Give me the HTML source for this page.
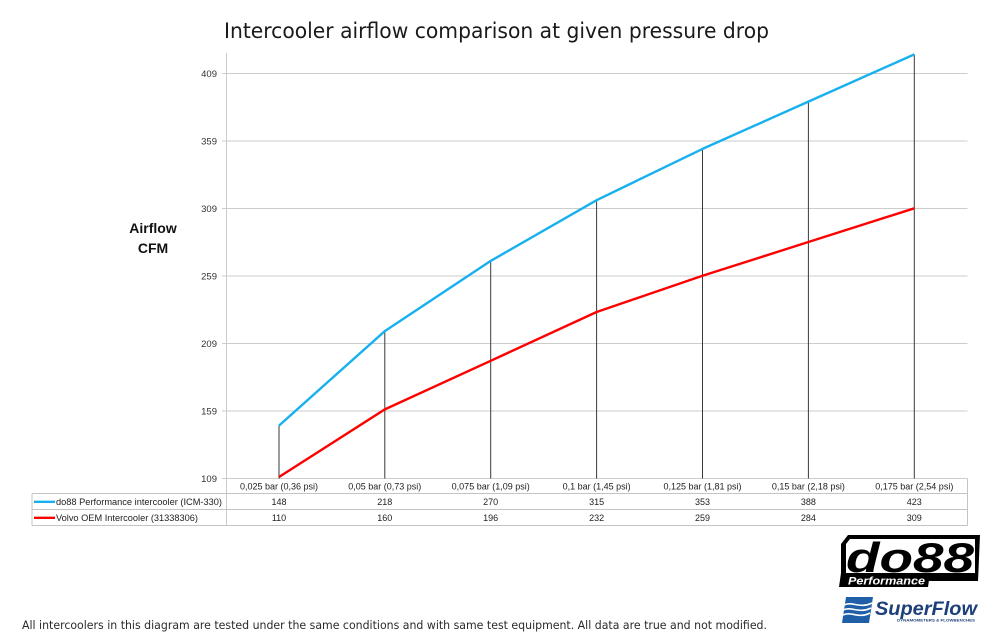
<!DOCTYPE html>
<html><head><meta charset="utf-8"><style>
html,body{margin:0;padding:0;background:#fff;}
svg{display:block;}
</style></head><body>
<svg width="1000" height="643" viewBox="0 0 1000 643" xmlns="http://www.w3.org/2000/svg">
<rect width="1000" height="643" fill="#fff"/>
<!-- title -->
<text x="224" y="38" font-family="DejaVu Sans, Liberation Sans, sans-serif" font-size="21" fill="#1a1a1a" textLength="545" lengthAdjust="spacingAndGlyphs">Intercooler airflow comparison at given pressure drop</text>
<!-- gridlines -->
<g stroke="#cccccc" stroke-width="1">
<line x1="222" y1="73.5" x2="967.5" y2="73.5"/>
<line x1="222" y1="141" x2="967.5" y2="141"/>
<line x1="222" y1="208.5" x2="967.5" y2="208.5"/>
<line x1="222" y1="276" x2="967.5" y2="276"/>
<line x1="222" y1="343.5" x2="967.5" y2="343.5"/>
<line x1="222" y1="411" x2="967.5" y2="411"/>
<line x1="222" y1="478.5" x2="967.5" y2="478.5"/>
<line x1="226.5" y1="53" x2="226.5" y2="525.5"/>
</g>
<!-- y labels -->
<g font-family="Liberation Sans, sans-serif" font-size="9.5" fill="#333" text-anchor="end">
<text x="217" y="76.8">409</text>
<text x="217" y="144.3">359</text>
<text x="217" y="211.8">309</text>
<text x="217" y="279.3">259</text>
<text x="217" y="346.8">209</text>
<text x="217" y="414.3">159</text>
<text x="217" y="481.8">109</text>
</g>
<text x="153" y="233" font-family="Liberation Sans, sans-serif" font-size="14" font-weight="bold" fill="#111" text-anchor="middle">Airflow</text>
<text x="153" y="253" font-family="Liberation Sans, sans-serif" font-size="14" font-weight="bold" fill="#111" text-anchor="middle">CFM</text>
<!-- drop lines -->
<g stroke="#3a3a3a" stroke-width="1">
<line x1="279" y1="425.6" x2="279" y2="478.5"/>
<line x1="384.8" y1="331.1" x2="384.8" y2="478.5"/>
<line x1="490.7" y1="260.9" x2="490.7" y2="478.5"/>
<line x1="596.6" y1="200.2" x2="596.6" y2="478.5"/>
<line x1="702.5" y1="148.9" x2="702.5" y2="478.5"/>
<line x1="808.4" y1="101.6" x2="808.4" y2="478.5"/>
<line x1="914.3" y1="54.4" x2="914.3" y2="478.5"/>
</g>
<!-- series -->
<polyline fill="none" stroke="#ff0000" stroke-width="2.4" stroke-linejoin="round" points="279,477 384.8,409.4 490.7,360.8 596.6,312 702.5,275.8 808.4,242 914.3,208.3"/>
<polyline fill="none" stroke="#18b0ee" stroke-width="2.4" stroke-linejoin="round" points="279,425.6 384.8,331.1 490.7,260.9 596.6,200.2 702.5,148.9 808.4,101.6 914.3,54.4"/>
<!-- table -->
<g stroke="#c4c4c4" stroke-width="1" fill="none">
<line x1="967.5" y1="478.5" x2="967.5" y2="525.5"/>
<line x1="32" y1="493.5" x2="967.5" y2="493.5"/>
<line x1="32" y1="509.5" x2="967.5" y2="509.5"/>
<line x1="32" y1="525.5" x2="967.5" y2="525.5"/>
<line x1="32" y1="493.5" x2="32" y2="525.5"/>
</g>
<g font-family="Liberation Sans, sans-serif" font-size="9" fill="#222" text-anchor="middle">
<text x="279" y="489.5">0,025 bar (0,36 psi)</text>
<text x="384.8" y="489.5">0,05 bar (0,73 psi)</text>
<text x="490.7" y="489.5">0,075 bar (1,09 psi)</text>
<text x="596.6" y="489.5">0,1 bar (1,45 psi)</text>
<text x="702.5" y="489.5">0,125 bar (1,81 psi)</text>
<text x="808.4" y="489.5">0,15 bar (2,18 psi)</text>
<text x="914.3" y="489.5">0,175 bar (2,54 psi)</text>
<text x="279" y="505">148</text>
<text x="384.8" y="505">218</text>
<text x="490.7" y="505">270</text>
<text x="596.6" y="505">315</text>
<text x="702.5" y="505">353</text>
<text x="808.4" y="505">388</text>
<text x="914.3" y="505">423</text>
<text x="279" y="521">110</text>
<text x="384.8" y="521">160</text>
<text x="490.7" y="521">196</text>
<text x="596.6" y="521">232</text>
<text x="702.5" y="521">259</text>
<text x="808.4" y="521">284</text>
<text x="914.3" y="521">309</text>
</g>
<line x1="34" y1="501.8" x2="55" y2="501.8" stroke="#18b0ee" stroke-width="2.4"/>
<line x1="34" y1="517.8" x2="55" y2="517.8" stroke="#ff0000" stroke-width="2.4"/>
<text x="56" y="505" font-family="Liberation Sans, sans-serif" font-size="9" fill="#222" textLength="166" lengthAdjust="spacingAndGlyphs">do88 Performance intercooler (ICM-330)</text>
<text x="56" y="521" font-family="Liberation Sans, sans-serif" font-size="9" fill="#222" textLength="142" lengthAdjust="spacingAndGlyphs">Volvo OEM Intercooler (31338306)</text>
<!-- footer -->
<text x="22" y="629" font-family="DejaVu Sans Condensed, DejaVu Sans, Liberation Sans, sans-serif" font-size="11.5" fill="#2a2a2a" textLength="745" lengthAdjust="spacingAndGlyphs">All intercoolers in this diagram are tested under the same conditions and with same test equipment. All data are true and not modified.</text>
<!-- do88 logo -->
<g>
<polygon points="848,535 980,535 978,581 975,581 975,539 850,539 846,544 846,575 841,575 841,544" fill="#000"/>
<polygon points="841,573 930,573 928,587 839,587" fill="#000"/>
<polygon points="926,573 978,573 978,581 924,581" fill="#000"/>
<text x="846" y="572" font-family="Liberation Sans, sans-serif" font-size="42" font-weight="bold" font-style="italic" fill="#000" textLength="128" lengthAdjust="spacingAndGlyphs">do88</text>
<text x="848" y="584.5" font-family="Liberation Sans, sans-serif" font-size="11" font-weight="bold" font-style="italic" fill="#fff" textLength="77" lengthAdjust="spacingAndGlyphs">Performance</text>
</g>
<!-- SuperFlow logo -->
<g>
<polygon points="846,597 873,597 869,623 842,623" fill="#1f5fa8"/>
<path d="M844,605 C852,601 860,609 872,603 M843,610 C851,606 859,614 871,608 M843,615 C851,611 859,619 870,613" stroke="#fff" stroke-width="1.6" fill="none"/>
<text x="875" y="615" font-family="Liberation Sans, sans-serif" font-size="19" font-weight="bold" font-style="italic" fill="#1d3f7a" textLength="102" lengthAdjust="spacingAndGlyphs">SuperFlow</text>
<text x="897" y="621.5" font-family="Liberation Sans, sans-serif" font-size="4" font-weight="bold" fill="#1d3f7a" textLength="78" lengthAdjust="spacingAndGlyphs">DYNAMOMETERS &amp; FLOWBENCHES</text>
</g>
</svg>
</body></html>
